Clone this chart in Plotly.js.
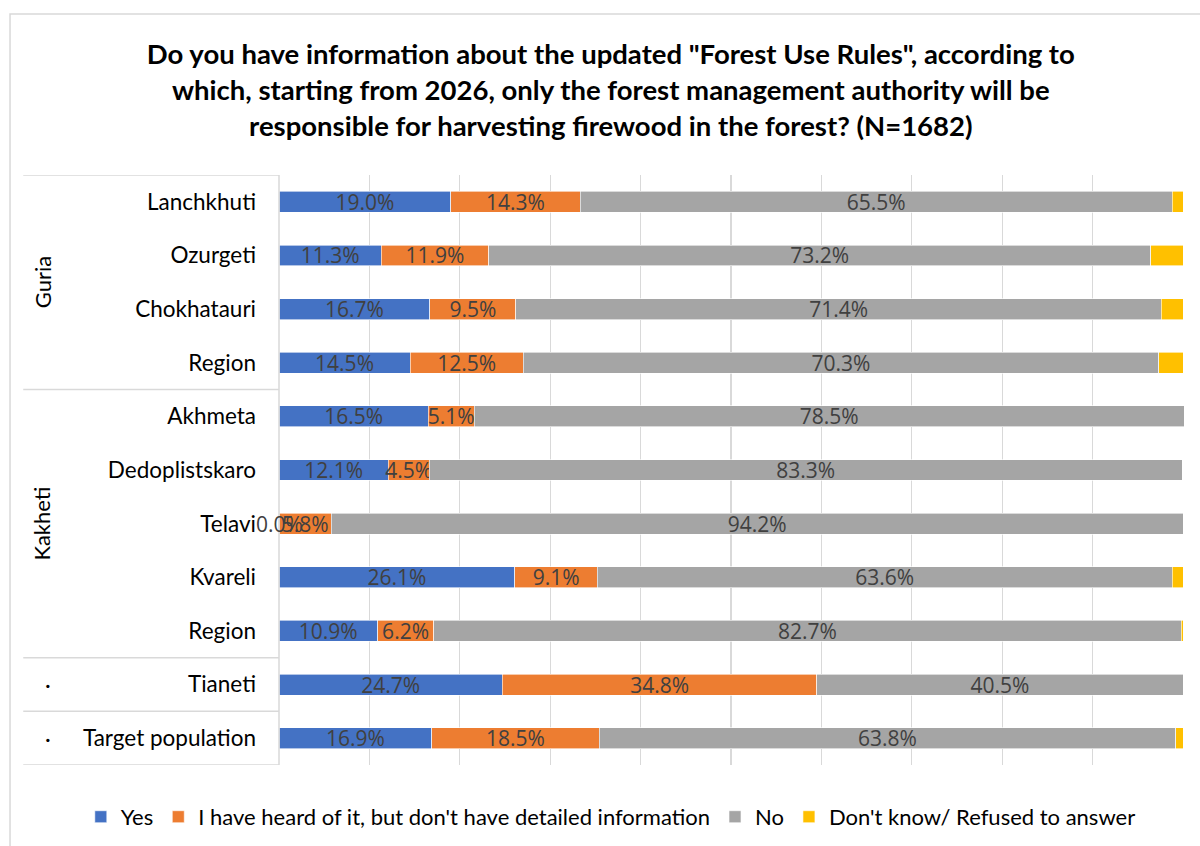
<!DOCTYPE html>
<html>
<head>
<meta charset="utf-8">
<script src="https://cdn.plot.ly/plotly-3.0.1.min.js"></script>
<style>html,body{margin:0;padding:0;background:#fff;}#chart{width:1200px;height:846px;}</style>
</head>
<body>
<div id="chart"></div>
<script>
const categories = ['Lanchkhuti','Ozurgeti','Chokhatauri','Region','Akhmeta','Dedoplistskaro','Telavi','Kvareli','Region','Tianeti','Target population'];
const groups = ['Guria','Guria','Guria','Guria','Kakheti','Kakheti','Kakheti','Kakheti','Kakheti','·','· '];
const yesVals = [19.0, 11.3, 16.7, 14.5, 16.5, 12.1, 0.0, 26.1, 10.9, 24.7, 16.9];
const heardVals = [14.3, 11.9, 9.5, 12.5, 5.1, 4.5, 5.8, 9.1, 6.2, 34.8, 18.5];
const noVals = [65.5, 73.2, 71.4, 70.3, 78.5, 83.3, 94.2, 63.6, 82.7, 40.5, 63.8];
const dkVals = [1.2, 3.6, 2.4, 2.7, 0, 0, 0, 1.2, 0.2, 0, 0.8];
const seriesNames = ['Yes', "I have heard of it, but don't have detailed information", 'No', "Don't know/ Refused to answer"];
const colors = ['#4472C4', '#ED7D31', '#A5A5A5', '#FFC000'];

const FONT = 'Lato, "Open Sans", sans-serif';
const LABELFONT = '"Open Sans", Lato, sans-serif';
const idx = categories.map((_, i) => i);
const seriesVals = [yesVals, heardVals, noVals, dkVals];
const labeled = [true, true, true, false];

const traces = seriesVals.map((vals, s) => ({
  type: 'bar', orientation: 'h', name: seriesNames[s],
  x: vals, y: idx,
  marker: {color: colors[s], line: {color: '#ffffff', width: 0.6}},
  text: labeled[s] ? vals.map(v => v.toFixed(1) + '%') : undefined,
  textposition: labeled[s] ? 'inside' : 'none',
  insidetextanchor: 'middle',
  constraintext: 'none',
  textfont: {family: LABELFONT, size: 21, color: '#404040'},
  cliponaxis: false,
  hoverinfo: 'name+x'
}));

// annotations for zero-width labeled bars (Plotly hides text on empty bars)
const annotations = [];
seriesVals.forEach((vals, s) => {
  if (!labeled[s]) return;
  vals.forEach((v, i) => {
    if (v === 0) {
      let base = 0;
      for (let k = 0; k < s; k++) base += seriesVals[k][i];
      annotations.push({x: base, y: i, xref: 'x', yref: 'y', text: v.toFixed(1) + '%', showarrow: false,
        font: {family: LABELFONT, size: 21, color: '#404040'}, xanchor: 'center', yanchor: 'middle'});
    }
  });
});

// group labels and dividers
const shapes = [];
const groupList = [];
groups.forEach((g, i) => {
  if (!groupList.length || groupList[groupList.length - 1].name !== g) groupList.push({name: g, start: i, end: i});
  else groupList[groupList.length - 1].end = i;
});
const xLeftTable = -0.2826; // paper x of table's left edge
shapes.push({type: 'line', xref: 'paper', yref: 'y', x0: xLeftTable, x1: 0, y0: -0.5, y1: -0.5, line: {color: '#d9d9d9', width: 1.5}});
groupList.forEach(g => {
  shapes.push({type: 'line', xref: 'paper', yref: 'y', x0: xLeftTable, x1: 0, y0: g.end + 0.5, y1: g.end + 0.5, line: {color: '#d9d9d9', width: 1.5}});
  const isDot = g.name.trim() === '·';
  annotations.push({xref: 'paper', yref: 'y', x: isDot ? -0.255 : -0.2619, y: (g.start + g.end) / 2,
    text: g.name.trim(), showarrow: false, textangle: isDot ? 0 : -90,
    font: {family: FONT, size: 22, color: '#000000'}, xanchor: 'center', yanchor: 'middle'});
});
shapes.push({type: 'line', xref: 'paper', yref: 'paper', x0: 0, x1: 0, y0: 0, y1: 1, line: {color: '#d9d9d9', width: 1.5}});
// outer chart border
shapes.push({type: 'rect', xref: 'paper', yref: 'paper', x0: -0.2972, x1: 1.1, y0: -0.2, y1: 1.2729, line: {color: '#d9d9d9', width: 1.5}, layer: 'below'});

const layout = {
  width: 1200, height: 846,
  margin: {l: 279, r: 16, t: 175, b: 81, autoexpand: false},
  paper_bgcolor: '#ffffff', plot_bgcolor: '#ffffff',
  barmode: 'stack', bargap: 0.61,
  font: {family: FONT, color: '#000000'},
  title: {
    text: '<b>Do you have information about the updated "Forest Use Rules", according to<br>which, starting from 2026, only the forest management authority will be<br>responsible for harvesting firewood in the forest? (N=1682)</b>',
    font: {family: FONT, size: 27.5, color: '#000000'},
    x: 0.509, xanchor: 'center', xref: 'container',
    y: 1 - 64 / 846, yanchor: 'middle', yref: 'container'
  },
  xaxis: {range: [0, 100.1], dtick: 10, showticklabels: false, showgrid: true, gridcolor: '#d9d9d9', gridwidth: 1.2,
    zeroline: false, showline: false, fixedrange: true},
  yaxis: {tickmode: 'array', tickvals: idx, ticktext: categories, range: [10.5, -0.5],
    showgrid: false, zeroline: false, showline: false, ticks: '', ticklabelstandoff: 22,
    tickfont: {family: FONT, size: 22.5, color: '#000000'}},
  legend: {orientation: 'h', x: -0.219, xanchor: 'left', y: -0.088, yanchor: 'middle',
    font: {family: FONT, size: 22, color: '#000000'}, traceorder: 'normal', itemwidth: 30, bgcolor: 'rgba(0,0,0,0)'},
  shapes: shapes,
  annotations: annotations,
  showlegend: true
};

Plotly.newPlot('chart', traces, layout, {displayModeBar: false, staticPlot: true});
</script>
</body>
</html>
